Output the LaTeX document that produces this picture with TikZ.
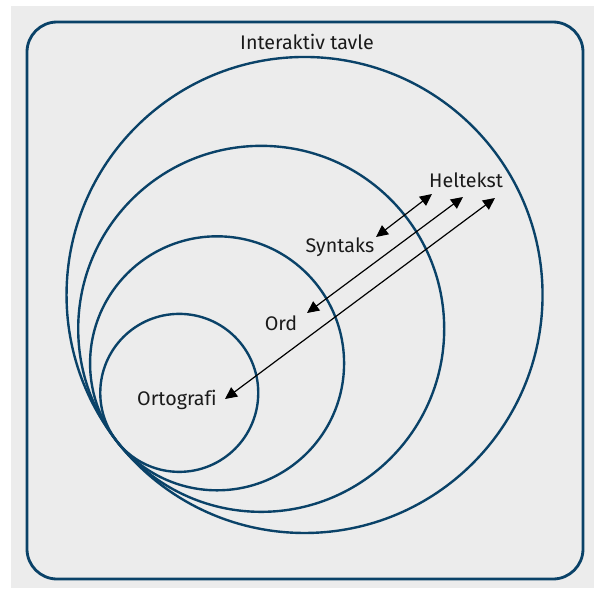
\documentclass[tikz,border=0pt]{standalone}
\usepackage{fontspec}
\setmainfont{Fira Sans}[Ligatures=NoCommon]
\usetikzlibrary{arrows.meta,positioning,calc}

\definecolor{tavleblue}{RGB}{10,66,104}
\definecolor{tavlegray}{RGB}{236,236,236}
\definecolor{tavletext}{RGB}{26,26,26}

\tikzset{
   ring/.style={draw=tavleblue, line width=1.7pt},
   frame/.style={draw=tavleblue, line width=2pt, rounded corners=0.75cm},
   lvl/.style={font=\fontsize{14}{16}\selectfont, text=tavletext, inner sep=0pt},
   link/.style={{Triangle[length=8.5pt,width=8pt]}-{Triangle[length=8.5pt,width=8pt]},
      line width=0.85pt, black},
}

\begin{document}
\begin{tikzpicture}[x=0.025cm,y=-0.025cm]
   \fill[white] (0,0) rectangle (594,588);
   \fill[tavlegray] (11,6) rectangle (594,588);
   \draw[frame] (27,22) rectangle (583,579);

   % all circles touch in one point
   \coordinate (T) at (117,441.5);
   \foreach \r in {79,127,183,238}
      \draw[ring] ($(T)+(-38:\r)$) circle (\r);

   \node[lvl] (tavle) at (307,42) {Interaktiv tavle};
   \node[lvl] (helt) at (466,180) {Heltekst};
   \node[lvl] (synt) at (340,247) {Syntaks};
   \node[lvl] (ord) at (281,323) {Ord};
   \node[lvl] (orto) at (177,400) {Ortografi};

   \coordinate (s0) at (376,237);
   \coordinate (s1) at (432,194);
   \coordinate (o0) at (307,313);
   \coordinate (o1) at (463,197);
   \coordinate (g0) at (225,399);
   \coordinate (g1) at (495,198);

   \draw[link] (s0) -- (s1);
   \draw[link] (o0) -- (o1);
   \draw[link] (g0) -- (g1);
\end{tikzpicture}
\end{document}
